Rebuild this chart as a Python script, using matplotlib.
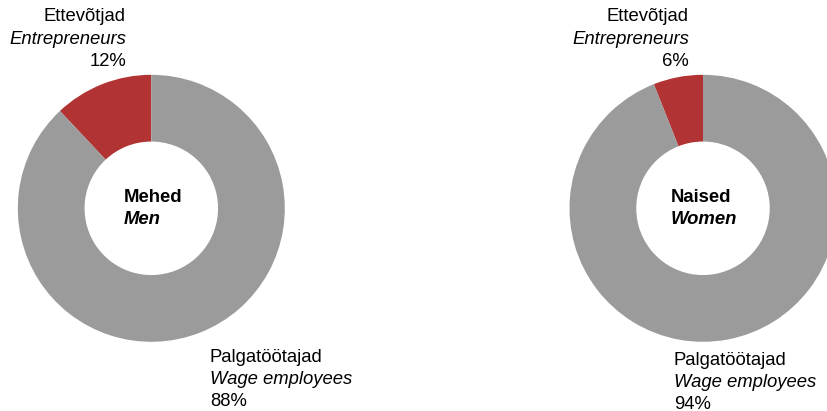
import matplotlib
matplotlib.use('Agg')
import matplotlib.pyplot as plt

plt.rcParams['font.family'] = ['Liberation Sans', 'DejaVu Sans']

W, H = 828, 411

groups_et = ['Mehed', 'Naised']
groups_en = ['Men', 'Women']
entrepreneurs = [12, 6]
wage_employees = [88, 94]
cat_et = ['Ettevõtjad', 'Palgatöötajad']
cat_en = ['Entrepreneurs', 'Wage employees']

RED = '#B23333'
GREY = '#9B9B9B'
FS = 13.3

# layout in pixel coordinates (y measured from top)
centers = [(151.3, 208.3), (703.0, 208.3)]
radius = 133.5
top_label_right = [126, 689]
top_label_y = [[17, 39, 61], [17, 39, 62]]
bottom_label_left = [210, 674]
bottom_label_y = [[357, 379, 401], [360, 382, 404]]
center_text_left = [124, 671]


def py(y):
    return H - y


fig = plt.figure(figsize=(W / 100, H / 100), dpi=100)
ax = fig.add_axes([0, 0, 1, 1])

for i in range(2):
    cx, cy = centers[i]
    ax.pie([entrepreneurs[i], wage_employees[i]], colors=[RED, GREY],
           startangle=90, counterclock=True, center=(cx, py(cy)),
           radius=radius, wedgeprops=dict(width=radius * 0.5, linewidth=0))

    # top label: entrepreneurs
    xr = top_label_right[i]
    ys = top_label_y[i]
    ax.text(xr, py(ys[0]), cat_et[0], ha='right', va='center', fontsize=FS)
    ax.text(xr, py(ys[1]), cat_en[0], ha='right', va='center', fontsize=FS,
            style='italic')
    ax.text(xr, py(ys[2]), f'{entrepreneurs[i]}%', ha='right', va='center',
            fontsize=FS)

    # bottom label: wage employees
    xl = bottom_label_left[i]
    ys = bottom_label_y[i]
    ax.text(xl, py(ys[0]), cat_et[1], ha='left', va='center', fontsize=FS)
    ax.text(xl, py(ys[1]), cat_en[1], ha='left', va='center', fontsize=FS,
            style='italic')
    ax.text(xl, py(ys[2]), f'{wage_employees[i]}%', ha='left', va='center',
            fontsize=FS)

    # centre label
    xc = center_text_left[i]
    ax.text(xc, py(197), groups_et[i], ha='left', va='center', fontsize=FS,
            fontweight='bold')
    ax.text(xc, py(219.5), groups_en[i], ha='left', va='center', fontsize=FS,
            fontweight='bold', style='italic')

ax.set_xlim(0, W)
ax.set_ylim(0, H)
ax.set_aspect('auto')
ax.axis('off')

fig.savefig('out.png', dpi=100, facecolor='white')
